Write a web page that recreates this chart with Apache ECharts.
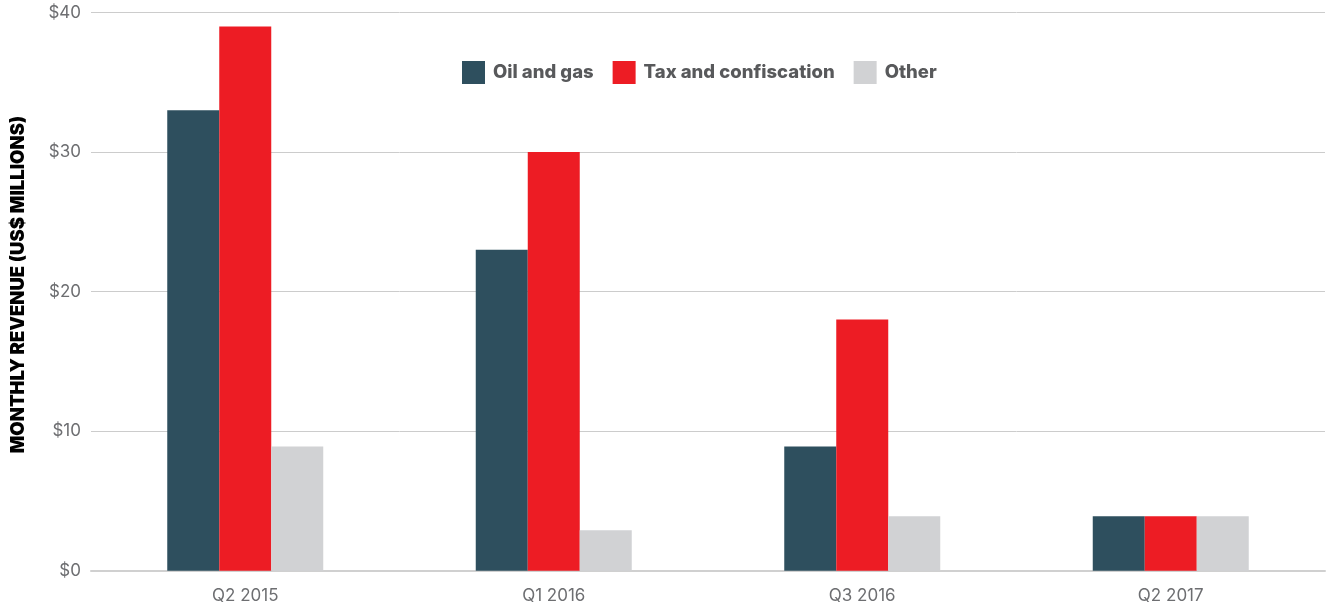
<!DOCTYPE html>
<html>
<head>
<meta charset="utf-8">
<style>
  html, body { margin: 0; padding: 0; background: #ffffff; }
  #chart { width: 1330px; height: 610px; }
</style>
<script src="https://cdn.jsdelivr.net/npm/echarts@6/dist/echarts.min.js"></script>
</head>
<body>
<div id="chart"></div>
<script>
// Quarterly snapshots of monthly revenue, US$ millions
const quarters = ['Q2 2015', 'Q1 2016', 'Q3 2016', 'Q2 2017'];
const oilAndGas = [33, 23, 8.9, 3.9];
const taxAndConfiscation = [39, 30, 18, 3.9];
const other = [8.9, 2.9, 3.9, 3.9];
const yTicks = { min: 0, max: 40, step: 10 };

const FONT = 'Inter, Roboto, "Noto Sans", sans-serif';

const chart = echarts.init(document.getElementById('chart'), null, { renderer: 'canvas' });

function barSeries(name, data, color) {
  return {
    name: name,
    type: 'bar',
    data: data,
    barWidth: 52,
    barGap: '0%',
    itemStyle: { color: color },
    emphasis: { disabled: true },
    animation: false
  };
}

chart.setOption({
  animation: false,
  textStyle: { fontFamily: FONT },
  grid: { left: 91, right: 5, top: 12.5, bottom: 39.3, containLabel: false },
  legend: {
    left: 462,
    top: 61,
    padding: 0,
    itemWidth: 23,
    itemHeight: 23,
    itemGap: 19,
    icon: 'rect',
    selectedMode: false,
    textStyle: {
      fontFamily: FONT,
      fontSize: 18.5,
      fontWeight: 800,
      color: '#58595b',
      padding: [0, 0, 0, 3]
    },
    data: ['Oil and gas', 'Tax and confiscation', 'Other']
  },
  xAxis: {
    type: 'category',
    data: quarters,
    axisLine: { show: true, lineStyle: { color: '#d0d0d0', width: 2 } },
    axisTick: { show: false },
    axisLabel: { color: '#6d6e71', fontSize: 17, margin: 17, fontFamily: FONT }
  },
  yAxis: {
    type: 'value',
    min: yTicks.min,
    max: yTicks.max,
    interval: yTicks.step,
    name: 'MONTHLY REVENUE (US$ MILLIONS)',
    nameLocation: 'middle',
    nameGap: 63,
    nameTextStyle: {
      color: '#000000',
      fontSize: 18.5,
      fontWeight: 900,
      fontFamily: FONT,
      padding: [0, 0, 0, 14]
    },
    axisLine: { show: false },
    axisTick: { show: false },
    axisLabel: {
      color: '#6d6e71',
      fontSize: 17,
      margin: 10,
      fontFamily: FONT,
      formatter: v => '$' + v
    },
    splitLine: { lineStyle: { color: '#cccccc', width: 1 } }
  },
  series: [
    barSeries('Oil and gas', oilAndGas, '#2e4f5e'),
    barSeries('Tax and confiscation', taxAndConfiscation, '#ed1c24'),
    barSeries('Other', other, '#d1d2d4')
  ]
});
</script>
</body>
</html>
